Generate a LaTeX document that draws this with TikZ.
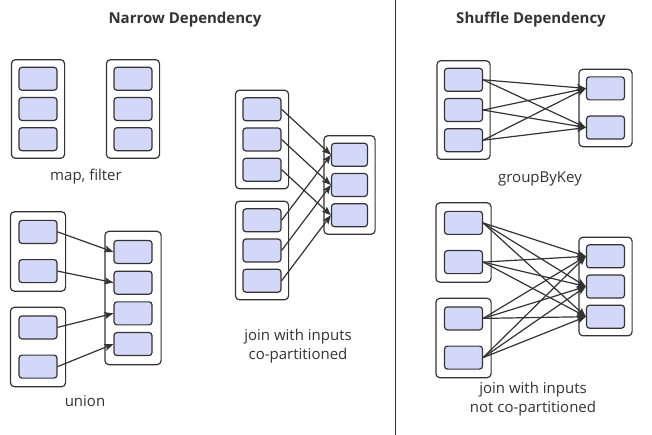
\documentclass[tikz,border=0pt]{standalone}
\usepackage{fontspec}
\setmainfont{Open Sans}
\usetikzlibrary{matrix,arrows.meta}
\definecolor{partfill}{HTML}{D4D8F8}
\definecolor{darkline}{HTML}{333333}

\begin{document}
\begin{tikzpicture}[x=1pt,y=-1pt,
    part/.style={draw=darkline,fill=partfill,line width=1.2pt,rounded corners=3pt,minimum width=38pt,minimum height=23pt,inner sep=0pt},
    rdd/.style={matrix of nodes,nodes in empty cells,draw=darkline,fill=white,line width=1.2pt,rounded corners=4pt,inner sep=7pt,nodes={part}},
    lbl/.style={text=darkline,font=\fontsize{15}{18.5}\selectfont,align=center},
    ttl/.style={text=darkline,font=\fontsize{15}{18}\selectfont\bfseries}]
  \useasboundingbox (0,0) rectangle (652,435);
  \draw[darkline,line width=1pt] (395,0) -- (395,435);
  \node[ttl] (narrow) at (185,20) {Narrow Dependency};
  \node[ttl] (shuffle) at (531,20) {Shuffle Dependency};

  % map, filter
  \matrix (mf1) at (38,109) [rdd,row sep=6pt] { \\ \\ \\ };
  \matrix (mf2) at (133,109) [rdd,row sep=6pt] { \\ \\ \\ };
  \node[lbl] (mflabel) at (86,177) {map, filter};

  % union
  \matrix (un1) at (38,251.5) [rdd,row sep=15pt,inner sep=8pt] { \\ \\ };
  \matrix (un2) at (38,347) [rdd,row sep=15pt,inner sep=8pt] { \\ \\ };
  \matrix (un3) at (133,298) [rdd,row sep=6.5pt,inner sep=8.5pt] { \\ \\ \\ \\ };
  \node[lbl] (unlabel) at (85,401) {union};
  \path[-{Stealth[length=9pt,width=7pt,inset=2pt]},darkline,line width=1.2pt]
    (un1-1-1.east) edge (un3-1-1.west)
    (un1-2-1.east) edge (un3-2-1.west)
    (un2-1-1.east) edge (un3-3-1.west)
    (un2-2-1.east) edge (un3-4-1.west);

  % join, co-partitioned
  \matrix (cp1) at (262,139.5) [rdd,row sep=6pt] { \\ \\ \\ };
  \matrix (cp2) at (262,250.5) [rdd,row sep=6pt] { \\ \\ \\ };
  \matrix (cp3) at (349.5,185) [rdd,row sep=6pt,nodes={minimum width=36pt}] { \\ \\ \\ };
  \node[lbl] (cplabel) at (298,346) {join with inputs\\co-partitioned};
  \path[-{Stealth[length=9pt,width=7pt,inset=2pt]},darkline,line width=1.2pt]
    (cp1-1-1.east) edge (cp3-1-1.west)
    (cp1-2-1.east) edge (cp3-2-1.west)
    (cp1-3-1.east) edge (cp3-3-1.west)
    (cp2-1-1.east) edge (cp3-1-1.west)
    (cp2-2-1.east) edge (cp3-2-1.west)
    (cp2-3-1.east) edge (cp3-3-1.west);

  % groupByKey
  \matrix (gb1) at (463.5,110) [rdd,row sep=6pt] { \\ \\ \\ };
  \matrix (gb2) at (605.5,108) [rdd,row sep=15pt] { \\ \\ };
  \node[lbl] (gblabel) at (540,179) {groupByKey};
  \path[-{Stealth[length=9pt,width=7pt,inset=2pt]},darkline,line width=1.2pt]
    (gb1-1-1.east) edge (gb2-1-1.west) edge (gb2-2-1.west)
    (gb1-2-1.east) edge (gb2-1-1.west) edge (gb2-2-1.west)
    (gb1-3-1.east) edge (gb2-1-1.west) edge (gb2-2-1.west);

  % join, not co-partitioned
  \matrix (nc1) at (463.5,242.5) [rdd,row sep=15pt,inner sep=8pt] { \\ \\ };
  \matrix (nc2) at (463.5,338) [rdd,row sep=15pt,inner sep=8pt] { \\ \\ };
  \matrix (nc3) at (605.5,286.5) [rdd,row sep=6pt] { \\ \\ \\ };
  \node[lbl] (nclabel) at (533,399) {join with inputs\\not co-partitioned};
  \path[-{Stealth[length=9pt,width=7pt,inset=2pt]},darkline,line width=1.2pt]
    (nc1-1-1.east) edge (nc3-1-1.west) edge (nc3-2-1.west) edge (nc3-3-1.west)
    (nc1-2-1.east) edge (nc3-1-1.west) edge (nc3-2-1.west) edge (nc3-3-1.west)
    (nc2-1-1.east) edge (nc3-1-1.west) edge (nc3-2-1.west) edge (nc3-3-1.west)
    (nc2-2-1.east) edge (nc3-1-1.west) edge (nc3-2-1.west) edge (nc3-3-1.west);
\end{tikzpicture}
\end{document}
